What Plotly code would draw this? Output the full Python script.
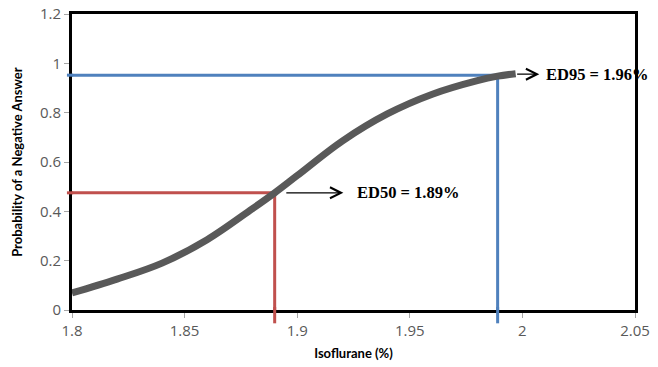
import plotly.graph_objects as go

# Dose-response curve
iso = [1.800, 1.820, 1.840, 1.860, 1.880, 1.890, 1.900, 1.920, 1.940, 1.960, 1.980, 1.989, 1.997]
prob = [0.069, 0.125, 0.190, 0.285, 0.410, 0.475, 0.545, 0.685, 0.795, 0.875, 0.930, 0.948, 0.958]

# Reference lines
ed50_x, ed50_y = 1.89, 0.475
ed95_x, ed95_y = 1.989, 0.952

# Labels
ed50_label = "ED50 = 1.89%"
ed95_label = "ED95 = 1.96%"
x_title = "Isoflurane (%)"
y_title = "Probability of a Negative Answer"
x_ticks = [1.8, 1.85, 1.9, 1.95, 2, 2.05]
x_ticklabels = ["1.8", "1.85", "1.9", "1.95", "2", "2.05"]
y_ticks = [0, 0.2, 0.4, 0.6, 0.8, 1, 1.2]
y_ticklabels = ["0", "0.2", "0.4", "0.6", "0.8", "1", "1.2"]

RED = "#C0504D"
BLUE = "#4F81BD"
CURVE = "#595959"

fig = go.Figure()

# red guide lines
fig.add_trace(go.Scatter(x=[1.8, ed50_x, ed50_x], y=[ed50_y, ed50_y, 0], mode="lines",
                         line=dict(color=RED, width=3), hoverinfo="skip", showlegend=False))
# blue guide lines
fig.add_trace(go.Scatter(x=[1.8, ed95_x, ed95_x], y=[ed95_y, ed95_y, 0], mode="lines",
                         line=dict(color=BLUE, width=3), hoverinfo="skip", showlegend=False))
# curve
fig.add_trace(go.Scatter(x=iso, y=prob, mode="lines", line=dict(color=CURVE, width=7, shape="spline"),
                         showlegend=False))

# stubs that extend past the axes
for xv, yv, col in [(ed50_x, ed50_y, RED), (ed95_x, ed95_y, BLUE)]:
    fig.add_shape(type="line", xref="paper", yref="y", x0=-0.009, x1=0.002, y0=yv, y1=yv,
                  line=dict(color=col, width=3), layer="above")
    fig.add_shape(type="line", xref="x", yref="paper", x0=xv, x1=xv, y0=-0.045, y1=0.01,
                  line=dict(color=col, width=3), layer="above")

# arrows
fig.add_annotation(x=1.9205, y=ed50_y, ax=ed50_x + 0.0045, ay=ed50_y, xref="x", yref="y",
                   axref="x", ayref="y", text="", showarrow=True, arrowhead=5, arrowsize=1.8,
                   arrowwidth=1.2, arrowcolor="black")
fig.add_annotation(x=2.0075, y=ed95_y + 0.004, ax=iso[-1], ay=ed95_y + 0.004, xref="x", yref="y",
                   axref="x", ayref="y", text="", showarrow=True, arrowhead=5, arrowsize=1.8,
                   arrowwidth=1.2, arrowcolor="black")

label_font = dict(family="Liberation Serif, Times New Roman, serif", size=16.5, color="black")
fig.add_annotation(x=1.9255, y=ed50_y, xref="x", yref="y", text="<b>" + ed50_label + "</b>",
                   showarrow=False, xanchor="left", yanchor="middle", font=label_font)
fig.add_annotation(x=2.0095, y=ed95_y + 0.004, xref="x", yref="y", text="<b>" + ed95_label + "</b>",
                   showarrow=False, xanchor="left", yanchor="middle", font=label_font)

tick_font = dict(family="Open Sans, sans-serif", size=15, color="#595959")
title_font = dict(family="Lato, sans-serif", size=13, color="black")

# y-axis title as a rotated annotation, placed at the left edge
fig.add_annotation(x=-0.098, y=0.5, xref="paper", yref="paper", text="<b>" + y_title + "</b>",
                   textangle=-90, showarrow=False, xanchor="center", yanchor="middle", font=title_font)

fig.update_xaxes(range=[1.8, 2.05], tickvals=x_ticks, ticktext=x_ticklabels, tickfont=tick_font,
                 showline=True, linecolor="black", linewidth=3, mirror=True,
                 ticks="outside", ticklen=5, tickcolor="#A6A6A6", tickwidth=1,
                 showgrid=False, zeroline=False, automargin=False,
                 title=dict(text="<b>" + x_title + "</b>", font=title_font, standoff=10))
fig.update_yaxes(range=[0, 1.2], tickvals=y_ticks, ticktext=y_ticklabels, tickfont=tick_font,
                 showline=True, linecolor="black", linewidth=3, mirror=True,
                 ticks="outside", ticklen=5, tickcolor="#A6A6A6", tickwidth=1,
                 showgrid=False, zeroline=False, automargin=False)

fig.update_layout(width=658, height=367, margin=dict(l=72, r=23, t=14, b=57),
                  plot_bgcolor="white", paper_bgcolor="white")

# remove the page's default body margin so the figure sits at the window's corner
fig.write_html("out.html", config={"displayModeBar": False},
               post_script="document.body.style.margin='0';")
